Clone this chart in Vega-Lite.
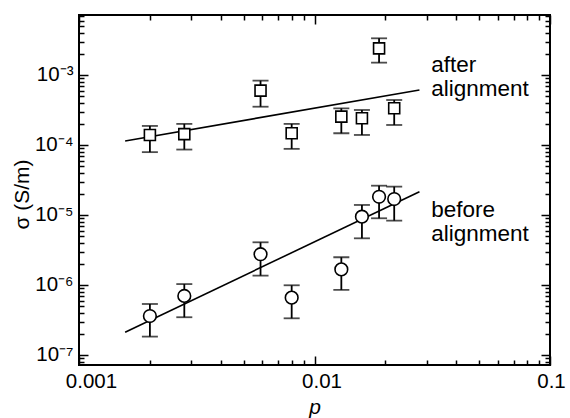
{
  "$schema": "https://vega.github.io/schema/vega-lite/v6.json",
  "width": 471,
  "height": 350,
  "autosize": "none",
  "padding": {"left": 79, "top": 15, "right": 20, "bottom": 53},
  "background": "white",
  "config": {
    "view": {"stroke": "black", "strokeWidth": 2},
    "font": "Liberation Sans"
  },
  "datasets": {
    "points": [
      {"group": "after", "p": 0.002, "sigma": 1.39e-4, "lo": 0.79e-4, "hi": 1.87e-4},
      {"group": "after", "p": 0.0028, "sigma": 1.43e-4, "lo": 0.86e-4, "hi": 2.0e-4},
      {"group": "after", "p": 0.0059, "sigma": 5.97e-4, "lo": 3.52e-4, "hi": 8.3e-4},
      {"group": "after", "p": 0.008, "sigma": 1.47e-4, "lo": 0.88e-4, "hi": 2.0e-4},
      {"group": "after", "p": 0.013, "sigma": 2.54e-4, "lo": 1.47e-4, "hi": 3.34e-4},
      {"group": "after", "p": 0.0159, "sigma": 2.41e-4, "lo": 1.39e-4, "hi": 3.16e-4},
      {"group": "after", "p": 0.0188, "sigma": 2.4e-3, "lo": 1.5e-3, "hi": 3.34e-3},
      {"group": "after", "p": 0.0218, "sigma": 3.34e-4, "lo": 1.93e-4, "hi": 4.39e-4},
      {"group": "before", "p": 0.002, "sigma": 3.6e-7, "lo": 1.83e-7, "hi": 5.35e-7},
      {"group": "before", "p": 0.0028, "sigma": 6.97e-7, "lo": 3.46e-7, "hi": 1.03e-6},
      {"group": "before", "p": 0.0059, "sigma": 2.75e-6, "lo": 1.36e-6, "hi": 4.07e-6},
      {"group": "before", "p": 0.008, "sigma": 6.59e-7, "lo": 3.34e-7, "hi": 9.9e-7},
      {"group": "before", "p": 0.013, "sigma": 1.67e-6, "lo": 8.5e-7, "hi": 2.49e-6},
      {"group": "before", "p": 0.0159, "sigma": 9.46e-6, "lo": 4.64e-6, "hi": 1.39e-5},
      {"group": "before", "p": 0.0188, "sigma": 1.82e-5, "lo": 8.97e-6, "hi": 2.62e-5},
      {"group": "before", "p": 0.0218, "sigma": 1.69e-5, "lo": 8.3e-6, "hi": 2.54e-5}
    ],
    "fits": [
      {"group": "after", "p": 0.00157, "sigma": 1.14e-4},
      {"group": "after", "p": 0.0279, "sigma": 6.1e-4},
      {"group": "before", "p": 0.00157, "sigma": 2.11e-7},
      {"group": "before", "p": 0.0279, "sigma": 2.15e-5}
    ],
    "notes": [
      {"label": "after", "p": 0.0313, "sigma": 1.1e-3},
      {"label": "alignment", "p": 0.0313, "sigma": 5.0e-4},
      {"label": "before", "p": 0.0313, "sigma": 9.36e-6},
      {"label": "alignment", "p": 0.0313, "sigma": 4.25e-6}
    ]
  },
  "layer": [
    {
      "data": {"name": "points"},
      "mark": {"type": "rule", "color": "black", "strokeWidth": 1.8},
      "encoding": {
        "x": {
          "field": "p", "type": "quantitative",
          "scale": {"type": "log", "domain": [0.001, 0.1], "nice": false},
          "axis": {
            "orient": "bottom",
            "values": [0.001, 0.002, 0.003, 0.004, 0.005, 0.006, 0.007, 0.008, 0.009, 0.01, 0.02, 0.03, 0.04, 0.05, 0.06, 0.07, 0.08, 0.09, 0.1],
            "domain": false, "grid": false,
            "tickColor": "black", "tickWidth": 1.5,
            "tickSize": {"condition": {"test": "abs(log(datum.value)/LN10 - round(log(datum.value)/LN10)) < 0.01", "value": -9}, "value": -5},
            "labelExpr": "abs(log(datum.value)/LN10 - round(log(datum.value)/LN10)) < 0.01 ? (datum.value < 0.005 ? '0.001' : datum.value < 0.05 ? '0.01' : '0.1') : ''",
            "labelFontSize": 20.5, "labelColor": "black", "labelFont": "Liberation Sans",
            "labelPadding": 15,
            "labelOffset": {"condition": [{"test": "datum.value < 0.005", "value": 12}, {"test": "datum.value < 0.05", "value": 7}], "value": 1},
            "labelFlush": false, "labelOverlap": false, "labelBound": false,
            "title": "p", "titleFontStyle": "italic", "titleFontWeight": "normal", "titleFontSize": 21,
            "titleColor": "black", "titleFont": "Liberation Sans",
            "titleY": 48, "titleBaseline": "alphabetic"
          }
        },
        "y": {
          "field": "lo", "type": "quantitative",
          "scale": {"type": "log", "domain": [7.19e-8, 7.19e-3], "nice": false},
          "axis": {
            "orient": "left",
            "values": [8e-8, 9e-8, 1e-7, 2e-7, 3e-7, 4e-7, 5e-7, 6e-7, 7e-7, 8e-7, 9e-7, 1e-6, 2e-6, 3e-6, 4e-6, 5e-6, 6e-6, 7e-6, 8e-6, 9e-6, 1e-5, 2e-5, 3e-5, 4e-5, 5e-5, 6e-5, 7e-5, 8e-5, 9e-5, 1e-4, 2e-4, 3e-4, 4e-4, 5e-4, 6e-4, 7e-4, 8e-4, 9e-4, 1e-3, 2e-3, 3e-3, 4e-3, 5e-3, 6e-3, 7e-3],
            "domain": false, "grid": false,
            "tickColor": "black", "tickWidth": 1.5,
            "tickSize": {"condition": {"test": "abs(log(datum.value)/LN10 - round(log(datum.value)/LN10)) < 0.01", "value": -9}, "value": -5},
            "labelExpr": "abs(log(datum.value)/LN10 - round(log(datum.value)/LN10)) < 0.01 ? '10⁻' + ['⁰','¹','²','³','⁴','⁵','⁶','⁷','⁸','⁹'][abs(round(log(datum.value)/LN10))] : ''",
            "labelFontSize": 20.5, "labelColor": "black", "labelFont": "Liberation Sans",
            "labelPadding": 15,
            "labelOverlap": false, "labelBound": false, "labelFlush": false,
            "title": "σ (S/m)", "titleFontWeight": "normal", "titleFontSize": 21,
            "titleColor": "black", "titleFont": "Liberation Sans",
            "titleAngle": -90, "titleX": -51, "titleY": 179, "titleAlign": "center", "titleBaseline": "alphabetic"
          }
        },
        "y2": {"field": "hi"}
      }
    },
    {
      "data": {"name": "points"},
      "mark": {"type": "tick", "orient": "horizontal", "color": "black", "size": 16, "thickness": 1.8},
      "encoding": {
        "x": {"field": "p", "type": "quantitative", "axis": null},
        "y": {"field": "lo", "type": "quantitative", "axis": null}
      }
    },
    {
      "data": {"name": "points"},
      "mark": {"type": "tick", "orient": "horizontal", "color": "black", "size": 16, "thickness": 1.8},
      "encoding": {
        "x": {"field": "p", "type": "quantitative", "axis": null},
        "y": {"field": "hi", "type": "quantitative", "axis": null}
      }
    },
    {
      "data": {"name": "fits"},
      "mark": {"type": "line", "color": "black", "strokeWidth": 1.6},
      "encoding": {
        "x": {
          "field": "p", "type": "quantitative",
          "axis": {
            "orient": "top",
            "values": [0.001, 0.002, 0.003, 0.004, 0.005, 0.006, 0.007, 0.008, 0.009, 0.01, 0.02, 0.03, 0.04, 0.05, 0.06, 0.07, 0.08, 0.09, 0.1],
            "domain": false, "grid": false, "labels": false, "title": null,
            "tickColor": "black", "tickWidth": 1.5,
            "tickSize": {"condition": {"test": "abs(log(datum.value)/LN10 - round(log(datum.value)/LN10)) < 0.01", "value": -9}, "value": -5}
          }
        },
        "y": {
          "field": "sigma", "type": "quantitative",
          "axis": {
            "orient": "right",
            "values": [8e-8, 9e-8, 1e-7, 2e-7, 3e-7, 4e-7, 5e-7, 6e-7, 7e-7, 8e-7, 9e-7, 1e-6, 2e-6, 3e-6, 4e-6, 5e-6, 6e-6, 7e-6, 8e-6, 9e-6, 1e-5, 2e-5, 3e-5, 4e-5, 5e-5, 6e-5, 7e-5, 8e-5, 9e-5, 1e-4, 2e-4, 3e-4, 4e-4, 5e-4, 6e-4, 7e-4, 8e-4, 9e-4, 1e-3, 2e-3, 3e-3, 4e-3, 5e-3, 6e-3, 7e-3],
            "domain": false, "grid": false, "labels": false, "title": null,
            "tickColor": "black", "tickWidth": 1.5,
            "tickSize": {"condition": {"test": "abs(log(datum.value)/LN10 - round(log(datum.value)/LN10)) < 0.01", "value": -9}, "value": -5}
          }
        },
        "detail": {"field": "group"}
      }
    },
    {
      "data": {"name": "points"},
      "mark": {"type": "point", "filled": true, "fill": "white", "stroke": "black", "strokeWidth": 1.6, "opacity": 1},
      "encoding": {
        "x": {"field": "p", "type": "quantitative", "axis": null},
        "y": {"field": "sigma", "type": "quantitative", "axis": null},
        "shape": {"field": "group", "type": "nominal", "scale": {"domain": ["after", "before"], "range": ["square", "circle"]}, "legend": null},
        "size": {"field": "group", "type": "nominal", "scale": {"domain": ["after", "before"], "range": [121, 160]}, "legend": null}
      }
    },
    {
      "data": {"name": "notes"},
      "mark": {"type": "text", "align": "left", "baseline": "alphabetic", "fontSize": 22.5, "font": "Liberation Sans", "color": "black"},
      "encoding": {
        "x": {"field": "p", "type": "quantitative", "axis": null},
        "y": {"field": "sigma", "type": "quantitative", "axis": null},
        "text": {"field": "label", "type": "nominal"}
      }
    }
  ],
  "resolve": {"axis": {"x": "independent", "y": "independent"}}
}
